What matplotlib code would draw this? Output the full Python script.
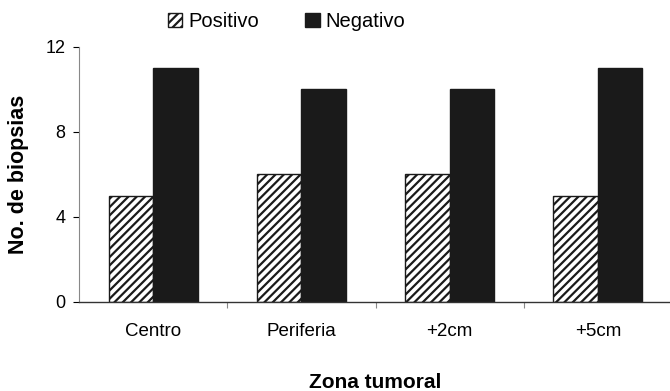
import numpy as np
import matplotlib.pyplot as plt

plt.rcParams['font.family'] = ['Liberation Sans', 'DejaVu Sans']
plt.rcParams['hatch.linewidth'] = 1.6

zonas = ['Centro', 'Periferia', '+2cm', '+5cm']
positivo = [5, 6, 6, 5]
negativo = [11, 10, 10, 11]

x = np.arange(len(zonas))
w = 0.3

fig = plt.figure(figsize=(6.7, 3.91), dpi=100)
ax = fig.add_axes([0.118, 0.228, 0.885, 0.652])

ax.bar(x - w/2, positivo, w, color='white', edgecolor='#1a1a1a',
       hatch='////', linewidth=1.0, label='Positivo')
ax.bar(x + w/2, negativo, w, color='#1a1a1a', edgecolor='#1a1a1a',
       linewidth=1.0, label='Negativo')

ax.set_xlim(-0.5, 3.5)
ax.set_ylim(0, 12)
ax.set_yticks([0, 4, 8, 12])
ax.tick_params(axis='y', labelsize=13, length=4, width=0.8, pad=6)

# category labels sit under the bars, ticks mark the boundaries
ax.set_xticks(x)
ax.set_xticklabels(zonas, fontsize=13.5)
ax.tick_params(axis='x', length=0, pad=15)
ax.set_xticks(np.arange(0.5, 3.5, 1), minor=True)
ax.tick_params(axis='x', which='minor', length=4, width=0.8, color='#888888')

ax.spines['top'].set_visible(False)
ax.spines['right'].set_visible(False)
ax.spines['left'].set_color('#888888')
ax.spines['left'].set_linewidth(0.8)
ax.spines['bottom'].set_color('#333333')
ax.spines['bottom'].set_linewidth(1.0)

ax.set_ylabel('No. de biopsias', fontsize=15.5, fontweight='bold', labelpad=12)
ax.set_xlabel('Zona tumoral', fontsize=15, fontweight='bold', labelpad=24)

fig.legend(loc='upper center', bbox_to_anchor=(0.428, 1.015), ncol=2,
           frameon=False, fontsize=14.5, handlelength=0.7, handleheight=0.7,
           handletextpad=0.3, columnspacing=2.3)

fig.savefig('out.png', dpi=100)
